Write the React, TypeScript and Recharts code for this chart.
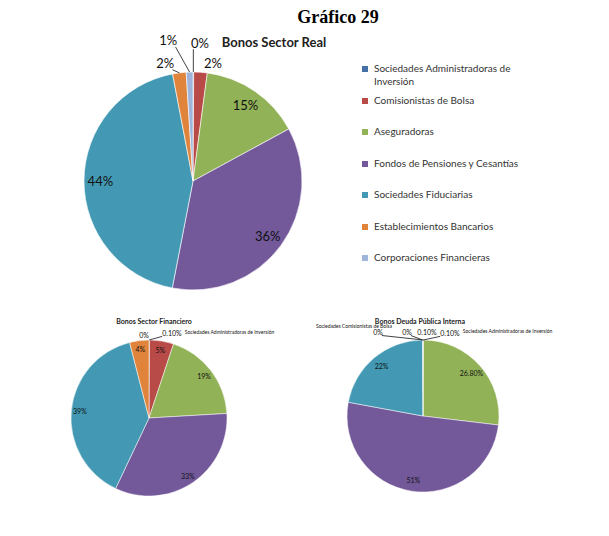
import React from "react";
import { PieChart, Pie, Cell, Legend } from "recharts";

// categories shared by the three pies (legend order = slice order, clockwise from 12 o'clock)
const categories = [
  "Sociedades Administradoras de Inversión",
  "Comisionistas de Bolsa",
  "Aseguradoras",
  "Fondos de Pensiones y Cesantías",
  "Sociedades Fiduciarias",
  "Establecimientos Bancarios",
  "Corporaciones Financieras",
];

const colors = ["#4472A8", "#B84A47", "#92B257", "#73599A", "#4399B3", "#E0843B", "#9FB5DC"];

// Bonos Sector Real
const realValues = [0.1, 2, 15, 36, 44, 2, 1];
const realLabels = ["0%", "2%", "15%", "36%", "44%", "2%", "1%"];

// Bonos Sector Financiero
const financieroValues = [0.1, 5, 19, 33, 39, 4, 0];
const financieroLabels = ["0.10%", "5%", "19%", "33%", "39%", "4%", "0%"];
const financieroNames = ["Sociedades Administradoras de Inversión", "", "", "", "", "", ""];

// Bonos Deuda Pública Interna
const deudaValues = [0.1, 0, 26.8, 51, 22, 0, 0.1];
const deudaLabels = ["0.10%", "0%", "26.80%", "51%", "22%", "0%", "0.10%"];
const deudaNames = ["Sociedades Administradoras de Inversión", "Sociedades Comisionistas de Bolsa", "", "", "", "", ""];

const toRows = (values: number[]) => categories.map((name, i) => ({ name, value: values[i] }));

// placement of the labels that sit outside the pie (f = radius factor, a = degrees clockwise from top)
type Outside = { f: number; a: number; leader?: boolean; name?: "right" | "above" };
const realOutside: Record<number, Outside> = {
  0: { f: 1.27, a: 2.9, leader: true },
  1: { f: 1.1, a: 9.6 },
  5: { f: 1.11, a: -13.3, leader: true },
  6: { f: 1.31, a: -10, leader: true },
};
const financieroOutside: Record<number, Outside> = {
  0: { f: 1.13, a: 15.1, leader: true, name: "right" },
  6: { f: 1.066, a: -3.4 },
};
const deudaOutside: Record<number, Outside> = {
  0: { f: 1.15, a: 18, leader: true, name: "right" },
  1: { f: 1.254, a: -28.2, leader: true, name: "above" },
  5: { f: 1.125, a: -10.8, leader: true },
  6: { f: 1.107, a: 2.7 },
};

const FONT = "Lato, 'Noto Sans', sans-serif";
const RAD = Math.PI / 180;

const makeLabel =
  (labels: string[], names: string[], outside: Record<number, Outside>, inner: number, size: number, nameSize: number) =>
  (props: any) => {
    const { cx, cy, midAngle, outerRadius, index } = props;
    const text = labels[index];
    const o = outside[index];
    if (!o) {
      const r = outerRadius * inner;
      return (
        <text
          x={cx + r * Math.cos(-midAngle * RAD)}
          y={cy + r * Math.sin(-midAngle * RAD)}
          textAnchor="middle"
          dominantBaseline="central"
          fontSize={size}
          fontFamily={FONT}
          fill="#111"
        >
          {text}
        </text>
      );
    }
    const x = cx + o.f * outerRadius * Math.sin(o.a * RAD);
    const y = cy - o.f * outerRadius * Math.cos(o.a * RAD);
    const ex = cx + outerRadius * Math.cos(-midAngle * RAD);
    const ey = cy + outerRadius * Math.sin(-midAngle * RAD);
    const hw = text.length * size * 0.28;
    const lx = x + Math.max(-hw, Math.min(hw, ex - x));
    const ly = y + size * 0.5;
    const name = names[index];
    return (
      <g>
        {o.leader && <line x1={ex} y1={ey} x2={lx} y2={ly} stroke="#111" strokeWidth={0.8} />}
        <text x={x} y={y} textAnchor="middle" dominantBaseline="central" fontSize={size} fontFamily={FONT} fill="#111">
          {text}
        </text>
        {name && o.name === "right" && (
          <text x={x + hw + 3} y={y - size * 0.2} dominantBaseline="central" fontSize={nameSize} fontFamily={FONT} fill="#111">
            {name}
          </text>
        )}
        {name && o.name === "above" && (
          <text x={x - 24} y={y - 6} textAnchor="middle" dominantBaseline="central" fontSize={nameSize} fontFamily={FONT} fill="#111">
            {name}
          </text>
        )}
      </g>
    );
  };

const LegendBox = () => (
  <div style={{ fontFamily: FONT, fontSize: 10, color: "#333", width: 180 }}>
    {categories.map((c, i) => (
      <div key={c} style={{ display: "flex", alignItems: "flex-start", height: 31.5 }}>
        <span
          style={{ width: 6, height: 6, background: colors[i], marginTop: 4, marginRight: 6, flexShrink: 0 }}
        />
        <span style={{ lineHeight: "13px", width: 160 }}>{c}</span>
      </div>
    ))}
  </div>
);

export default function App() {
  return (
    <div style={{ position: "absolute", left: 0, top: 0, background: "#fff" }}>
      <PieChart width={609} height={536} margin={{ top: 0, right: 0, bottom: 0, left: 0 }}>
        <text x={338} y={17} textAnchor="middle" dominantBaseline="central" fontFamily="'Liberation Serif', serif" fontWeight="bold" fontSize={18} fill="#000">
          Gráfico 29
        </text>
        <text x={274} y={42} textAnchor="middle" dominantBaseline="central" fontFamily={FONT} fontWeight="bold" fontSize={13} fill="#222">
          Bonos Sector Real
        </text>
        <text x={154} y={321} textAnchor="middle" dominantBaseline="central" fontFamily={FONT} fontWeight="bold" fontSize={7} fill="#222">
          Bonos Sector Financiero
        </text>
        <text x={420} y={321} textAnchor="middle" dominantBaseline="central" fontFamily={FONT} fontWeight="bold" fontSize={7} fill="#222">
          Bonos Deuda Pública Interna
        </text>
        <Pie
          data={toRows(realValues)}
          dataKey="value"
          cx={193}
          cy={181}
          outerRadius={109}
          startAngle={90}
          endAngle={-270}
          stroke="#fff"
          strokeWidth={0.6}
          isAnimationActive={false}
          labelLine={false}
          label={makeLabel(realLabels, categories.map(() => ""), realOutside, 0.85, 13, 5)}
        >
          {realValues.map((_, i) => (
            <Cell key={i} fill={colors[i]} />
          ))}
        </Pie>
        <Pie
          data={toRows(financieroValues)}
          dataKey="value"
          cx={149}
          cy={418}
          outerRadius={78}
          startAngle={90}
          endAngle={-270}
          stroke="#fff"
          strokeWidth={0.5}
          isAnimationActive={false}
          labelLine={false}
          label={makeLabel(financieroLabels, financieroNames, financieroOutside, 0.89, 7, 5)}
        >
          {financieroValues.map((_, i) => (
            <Cell key={i} fill={colors[i]} />
          ))}
        </Pie>
        <Pie
          data={toRows(deudaValues)}
          dataKey="value"
          cx={423}
          cy={416}
          outerRadius={76}
          startAngle={90}
          endAngle={-270}
          stroke="#fff"
          strokeWidth={0.5}
          isAnimationActive={false}
          labelLine={false}
          label={makeLabel(deudaLabels, deudaNames, deudaOutside, 0.85, 7, 5)}
        >
          {deudaValues.map((_, i) => (
            <Cell key={i} fill={colors[i]} />
          ))}
        </Pie>
        <Legend
          layout="vertical"
          align="right"
          verticalAlign="top"
          content={() => <LegendBox />}
          wrapperStyle={{ left: 362, top: 62, width: 180 }}
        />
      </PieChart>
    </div>
  );
}
